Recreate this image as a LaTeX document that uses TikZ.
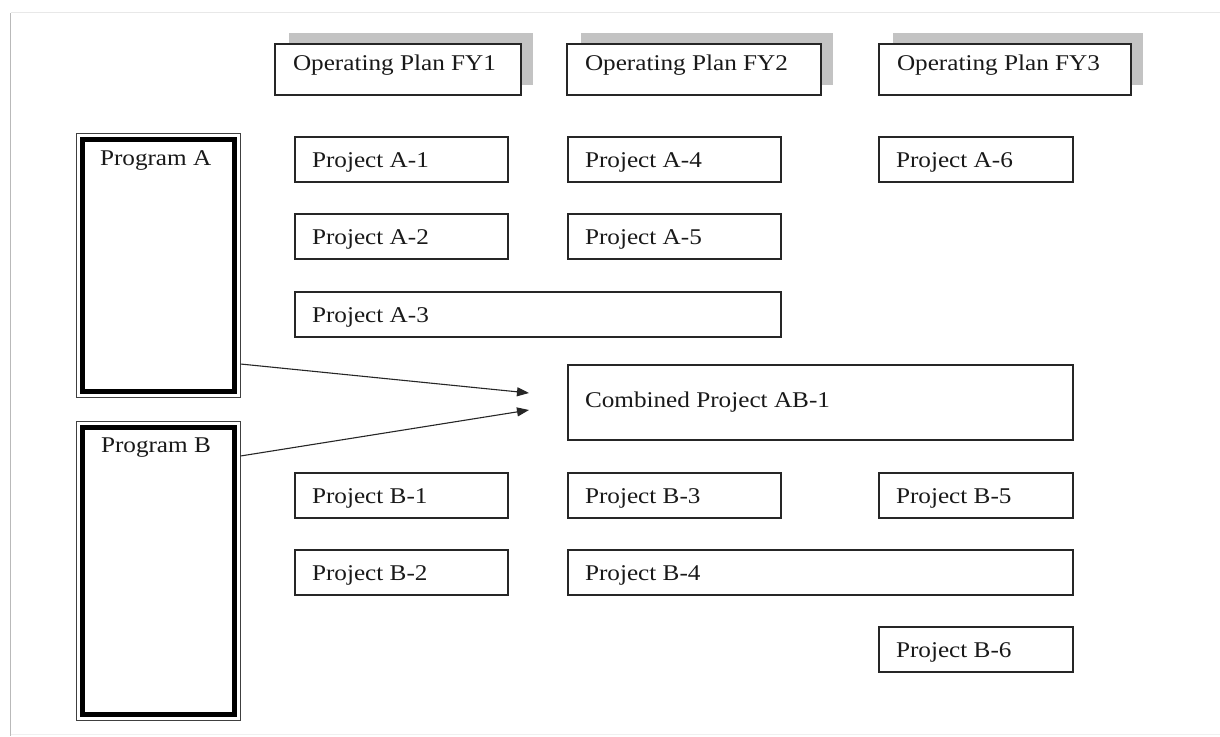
\documentclass[tikz,border=0pt]{standalone}
\usepackage{fontspec}
\setmainfont{Liberation Serif}[FakeStretch=1.12]
\usetikzlibrary{arrows.meta,calc}
\pgfdeclarelayer{bg}
\pgfsetlayers{bg,main}
\definecolor{shadowc}{HTML}{C3C3C3}
\newcommand\mkbox[8]{%
  \node[pbox,minimum width={#4-#2},minimum height={#5-#3}] (#1) at (#2,#3) {};
  \node[lbl,anchor=base west] (#1t) at ([shift={(#6,#7)}]#1.north west) {#8};}
\begin{document}
\begin{tikzpicture}[x=1pt,y=-1pt,
  pbox/.style={rectangle,draw=black!85,line width=2pt,fill=white,inner sep=0pt,outer sep=0pt,anchor=north west},
  lbl/.style={inner sep=0pt,outer sep=0pt,text=black!90,font=\fontsize{22.5}{26}\selectfont},
  progbox/.style={rectangle,draw=black!75,line width=1.5pt,fill=white,inner sep=0pt,outer sep=0pt,anchor=north west},
  conn/.style={draw=black!85,line width=1.1pt,-{Triangle[length=12pt,width=9pt]}}]
\useasboundingbox (0,0) rectangle (1220,736);
% page frame
\draw[gray!55,line width=1.2pt] (10.5,736) -- (10.5,12.5);
\draw[gray!18,line width=1pt] (10.5,12.5) -- (1220,12.5);
\draw[gray!12,line width=1pt] (10.5,734) -- (1220,734);
% operating plans
\mkbox{fy1}{275}{44}{521}{95}{18}{26}{Operating Plan FY1}
\mkbox{fy2}{567}{44}{821}{95}{18}{26}{Operating Plan FY2}
\mkbox{fy3}{879}{44}{1131}{95}{18}{26}{Operating Plan FY3}
\begin{pgfonlayer}{bg}
  \foreach \n in {fy1,fy2,fy3}
    \fill[shadowc] ([shift={(14,-11)}]\n.north west) rectangle ([shift={(12,-10)}]\n.south east);
\end{pgfonlayer}
% programs
\node[progbox,minimum width=164pt,minimum height=264pt] (pa) at (76.5,133.5) {};
\draw[black,line width=5.5pt] ([shift={(5.8,5.8)}]pa.north west) rectangle ([shift={(-5.8,-5.8)}]pa.south east);
\node[lbl,anchor=base west] (pat) at (100,165) {Program A};
\node[progbox,minimum width=164pt,minimum height=299pt] (pb) at (76.5,421.5) {};
\draw[black,line width=5.5pt] ([shift={(5.8,5.8)}]pb.north west) rectangle ([shift={(-5.8,-5.8)}]pb.south east);
\node[lbl,anchor=base west] (pbt) at (101,452) {Program B};
% projects
\mkbox{a1}{295}{137}{508}{182}{17}{30}{Project A-1}
\mkbox{a2}{295}{214}{508}{259}{17}{30}{Project A-2}
\mkbox{a3}{295}{292}{781}{337}{17}{30}{Project A-3}
\mkbox{a4}{568}{137}{781}{182}{17}{30}{Project A-4}
\mkbox{a5}{568}{214}{781}{259}{17}{30}{Project A-5}
\mkbox{a6}{879}{137}{1073}{182}{17}{30}{Project A-6}
\mkbox{ab1}{568}{365}{1073}{440}{17}{42}{Combined Project AB-1}
\mkbox{b1}{295}{473}{508}{518}{17}{30}{Project B-1}
\mkbox{b3}{568}{473}{781}{518}{17}{30}{Project B-3}
\mkbox{b5}{879}{473}{1073}{518}{17}{30}{Project B-5}
\mkbox{b2}{295}{550}{508}{595}{17}{30}{Project B-2}
\mkbox{b4}{568}{550}{1073}{595}{17}{30}{Project B-4}
\mkbox{b6}{879}{627}{1073}{672}{17}{30}{Project B-6}
% connectors
\coordinate (tipA) at (529,393);
\coordinate (tipB) at (529,410);
\draw[conn] ([yshift=-98.5pt]pa.east) -- (tipA);
\draw[conn] ([yshift=115pt]pb.east) -- (tipB);
\end{tikzpicture}
\end{document}
